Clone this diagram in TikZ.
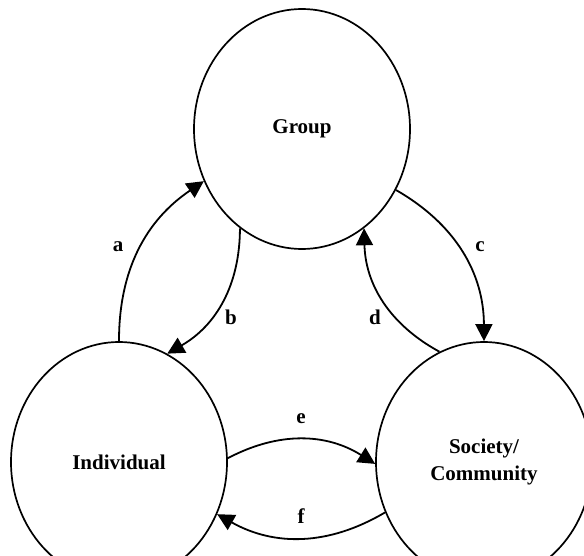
\documentclass[tikz,border=0pt]{standalone}
\usepackage{fontspec}
\setmainfont{Liberation Serif}
\usetikzlibrary{arrows.meta,shapes.geometric}
\begin{document}
\begin{tikzpicture}[x=1pt,y=1pt,
    cerchio/.style={draw, ellipse, line width=1.7pt, minimum width=216pt, minimum height=240pt, inner sep=0pt, align=center, font=\fontsize{21}{27}\selectfont\bfseries},
    freccia/.style={line width=1.8pt, -{Triangle[length=17pt,width=17pt]}},
    lettera/.style={font=\fontsize{21}{24}\selectfont\bfseries}]
    \useasboundingbox (0,0) rectangle (584,-556);
    \node[cerchio] (grp) at (302,-129) {Group};
    \node[cerchio] (ind) at (119,-462) {Individual};
    \node[cerchio] (soc) at (484,-462) {Society/\\Community};
    \draw[freccia] (ind.90) to[bend left=28] (grp.208); % a
    \draw[freccia] (grp.238) to[bend left=30] (ind.66); % b
    \draw[freccia] (grp.327) to[bend left=30] (soc.90); % c
    \draw[freccia] (soc.112) to[bend left=30] (grp.302); % d
    \draw[freccia] (ind.2) to[bend left=30] (soc.181); % e
    \draw[freccia] (soc.207) to[bend left=30] (ind.332); % f
    \node[lettera] (la) at (118,-247) {a};
    \node[lettera] (lb) at (231,-317) {b};
    \node[lettera] (lc) at (480,-247) {c};
    \node[lettera] (ld) at (375,-317) {d};
    \node[lettera] (le) at (301,-419) {e};
    \node[lettera] (lf) at (301,-516) {f};
\end{tikzpicture}
\end{document}
